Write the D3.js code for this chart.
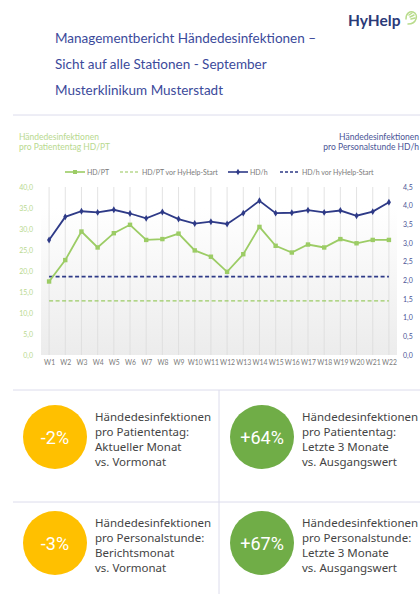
<!DOCTYPE html>
<html>
<head>
<meta charset="utf-8">
<script src="https://cdn.jsdelivr.net/npm/d3@7"></script>
<style>
  body { margin: 0; background: #fff; }
  svg { display: block; }
</style>
</head>
<body>
<div id="chart"></div>
<script>
// weekly values
const weeks = ["W1","W2","W3","W4","W5","W6","W7","W8","W9","W10","W11","W12","W13","W14","W15","W16","W17","W18","W19","W20","W21","W22"];
const hdPT = [17.5,22.6,29.4,25.6,29.0,31.0,27.4,27.6,28.9,24.9,23.4,19.8,24.0,30.5,26.0,24.4,26.3,25.6,27.6,26.6,27.4,27.4];
const hdH = [3.08,3.70,3.85,3.82,3.89,3.79,3.66,3.83,3.64,3.52,3.57,3.51,3.80,4.13,3.80,3.81,3.88,3.82,3.87,3.73,3.84,4.09];
const hdPTBefore = 12.9;
const hdHBefore = 2.1;
const leftTicks = [0,5,10,15,20,25,30,35,40];
const rightTicks = [0,0.5,1,1.5,2,2.5,3,3.5,4,4.5];
const titleLines = ["Managementbericht Händedesinfektionen –", "Sicht auf alle Stationen - September", "Musterklinikum Musterstadt"];
const kpis = [
    { value: "-2%", color: "#ffc000", lines: ["Händedesinfektionen","pro Patiententag:","Aktueller Monat","vs. Vormonat"] },
    { value: "+64%", color: "#70ad47", lines: ["Händedesinfektionen","pro Patiententag:","Letzte 3 Monate","vs. Ausgangswert"] },
    { value: "-3%", color: "#ffc000", lines: ["Händedesinfektionen","pro Personalstunde:","Berichtsmonat","vs. Vormonat"] },
    { value: "+67%", color: "#70ad47", lines: ["Händedesinfektionen","pro Personalstunde:","Letzte 3 Monate","vs. Ausgangswert"] }
];

const width = 420, height = 594;
const green = "#9ccc65", greenText = "#b8d98f", navy = "#2e3a87", navyText = "#4a5496";
const plot = { top: 187, bottom: 355, left: 41, right: 397 };

let svg = d3.select("#chart")
    .append("svg")
    .attr("width", width)
    .attr("height", height)
    .attr("viewBox", [0, 0, width, height]);

// header
svg.append("text")
    .attr("x", 348).attr("y", 26)
    .attr("font-family", "Lato, sans-serif")
    .attr("font-weight", "bold")
    .attr("font-size", 15.5)
    .attr("fill", "#2b3a78")
    .text("HyHelp");

// little hand icon next to the logo
let hand = svg.append("g")
    .attr("transform", "translate(404,10)")
    .attr("fill", "none")
    .attr("stroke", "#b9dc8c")
    .attr("stroke-width", 1.5)
    .attr("stroke-linecap", "round");
hand.append("path").attr("d", "M2,9 C2,3 6,1 9,2 C12,3 13,6 12,9 C11,12 8,14 4,14");
hand.append("path").attr("d", "M5,5 L8,3 M6,7 L10,5 M7,9 L11,8");

svg.selectAll(".title")
    .data(titleLines)
    .join("text")
    .attr("class", "title")
    .attr("x", 55)
    .attr("y", (d, i) => 43 + i * 26)
    .attr("font-family", "Lato, sans-serif")
    .attr("font-size", 13.5)
    .attr("fill", "#3b4a9b")
    .text(d => d);

svg.append("line")
    .attr("x1", 13).attr("x2", width)
    .attr("y1", 115).attr("y2", 115)
    .attr("stroke", "#dcdcec").attr("stroke-width", 1);

// scales
let x = d3.scalePoint()
    .domain(weeks)
    .range([plot.left, plot.right])
    .padding(0.5);

let yL = d3.scaleLinear().domain([0, 40]).range([plot.bottom, plot.top]);
let yR = d3.scaleLinear().domain([0, 4.5]).range([plot.bottom, plot.top]);

// plot background gradient
let grad = svg.append("defs").append("linearGradient")
    .attr("id", "bg").attr("x1", 0).attr("x2", 0).attr("y1", 0).attr("y2", 1);
grad.append("stop").attr("offset", "0%").attr("stop-color", "#ffffff");
grad.append("stop").attr("offset", "100%").attr("stop-color", "#ececec");

svg.append("rect")
    .attr("x", plot.left).attr("y", yL(35))
    .attr("width", plot.right - plot.left)
    .attr("height", plot.bottom - yL(35))
    .attr("fill", "url(#bg)");

svg.append("g")
    .selectAll("line")
    .data(weeks)
    .join("line")
    .attr("x1", d => x(d)).attr("x2", d => x(d))
    .attr("y1", plot.top).attr("y2", plot.bottom)
    .attr("stroke", "#dcdcdc").attr("stroke-width", 0.8);

const comma = f => v => d3.format(f)(v).replace(".", ",");

// left axis
let axL = svg.append("g")
    .attr("transform", `translate(${plot.left - 5},0)`)
    .call(d3.axisLeft(yL).tickValues(leftTicks).tickFormat(comma(".1f")).tickSize(0));
axL.select(".domain").remove();
axL.selectAll("text")
    .attr("font-family", "Lato, sans-serif")
    .attr("font-size", 7)
    .attr("fill", greenText);

// right axis
let axR = svg.append("g")
    .attr("transform", `translate(${plot.right + 3},0)`)
    .call(d3.axisRight(yR).tickValues(rightTicks).tickFormat(comma(".1f")).tickSize(0));
axR.select(".domain").remove();
axR.selectAll("text")
    .attr("font-family", "Lato, sans-serif")
    .attr("font-size", 7)
    .attr("fill", navyText);

// x axis
let axX = svg.append("g")
    .attr("transform", `translate(0,${plot.bottom + 2})`)
    .call(d3.axisBottom(x).tickSize(0));
axX.select(".domain").remove();
axX.selectAll("text")
    .attr("font-family", "Lato, sans-serif")
    .attr("font-size", 6.8)
    .attr("fill", "#7a7a7a");

// baselines before HyHelp
svg.append("line")
    .attr("x1", x(weeks[0])).attr("x2", x(weeks[weeks.length - 1]))
    .attr("y1", yL(hdPTBefore)).attr("y2", yL(hdPTBefore))
    .attr("stroke", green).attr("stroke-width", 1.2)
    .attr("stroke-dasharray", "4,2.5");

svg.append("line")
    .attr("x1", x(weeks[0])).attr("x2", x(weeks[weeks.length - 1]))
    .attr("y1", yR(hdHBefore)).attr("y2", yR(hdHBefore))
    .attr("stroke", navy).attr("stroke-width", 1.8)
    .attr("stroke-dasharray", "4,2.5");

// HD/h series
svg.append("path")
    .datum(hdH)
    .attr("fill", "none")
    .attr("stroke", navy)
    .attr("stroke-width", 1.8)
    .attr("d", d3.line().x((d, i) => x(weeks[i])).y(d => yR(d)));

svg.append("g")
    .selectAll("path")
    .data(hdH)
    .join("path")
    .attr("transform", (d, i) => `translate(${x(weeks[i])},${yR(d)})`)
    .attr("d", d3.symbol(d3.symbolDiamond, 14))
    .attr("fill", navy);

// HD/PT series
svg.append("path")
    .datum(hdPT)
    .attr("fill", "none")
    .attr("stroke", green)
    .attr("stroke-width", 1.8)
    .attr("d", d3.line().x((d, i) => x(weeks[i])).y(d => yL(d)));

svg.append("g")
    .selectAll("rect")
    .data(hdPT)
    .join("rect")
    .attr("x", (d, i) => x(weeks[i]) - 2.2)
    .attr("y", d => yL(d) - 2.2)
    .attr("width", 4.4).attr("height", 4.4)
    .attr("fill", green);

// axis titles
svg.append("text")
    .attr("font-family", "Lato, sans-serif")
    .attr("font-size", 8.5)
    .attr("fill", greenText)
    .selectAll("tspan")
    .data(["Händedesinfektionen", "pro Patiententag HD/PT"])
    .join("tspan")
    .attr("x", 19)
    .attr("y", (d, i) => 140 + i * 10)
    .text(d => d);

svg.append("text")
    .attr("font-family", "Lato, sans-serif")
    .attr("font-size", 8.5)
    .attr("fill", navyText)
    .attr("text-anchor", "end")
    .selectAll("tspan")
    .data(["Händedesinfektionen", "pro Personalstunde HD/h"])
    .join("tspan")
    .attr("x", 419)
    .attr("y", (d, i) => 139.5 + i * 10)
    .text(d => d);

// legend
const legend = [
    { label: "HD/PT", color: green, dash: null, mark: "square", x: 65 },
    { label: "HD/PT vor HyHelp-Start", color: greenText, dash: "3,2", mark: null, x: 120 },
    { label: "HD/h", color: navy, dash: null, mark: "diamond", x: 228 },
    { label: "HD/h vor HyHelp-Start", color: navy, dash: "3,2", mark: null, x: 280 }
];
let lg = svg.append("g").selectAll("g")
    .data(legend)
    .join("g")
    .attr("transform", d => `translate(${d.x},172)`);
lg.append("line")
    .attr("x1", 0).attr("x2", 20)
    .attr("stroke", d => d.color)
    .attr("stroke-width", 1.6)
    .attr("stroke-dasharray", d => d.dash);
lg.filter(d => d.mark === "square").append("rect")
    .attr("x", 8).attr("y", -2).attr("width", 4).attr("height", 4)
    .attr("fill", d => d.color);
lg.filter(d => d.mark === "diamond").append("path")
    .attr("transform", "translate(10,0)")
    .attr("d", d3.symbol(d3.symbolDiamond, 12))
    .attr("fill", d => d.color);
lg.append("text")
    .attr("x", 22).attr("y", 2.5)
    .attr("font-family", "Lato, sans-serif")
    .attr("font-size", 7)
    .attr("fill", "#7a7a7a")
    .text(d => d.label);

// KPI panels
svg.append("line").attr("x1", 13).attr("x2", width).attr("y1", 390).attr("y2", 390)
    .attr("stroke", "#dcdcec");
svg.append("line").attr("x1", 13).attr("x2", width).attr("y1", 502).attr("y2", 502)
    .attr("stroke", "#dcdcec");
svg.append("line").attr("x1", 219).attr("x2", 219).attr("y1", 390).attr("y2", height)
    .attr("stroke", "#dcdcec");

let kpi = svg.append("g").selectAll("g")
    .data(kpis)
    .join("g")
    .attr("transform", (d, i) => `translate(${i % 2 ? 262 : 55},${i < 2 ? 437 : 543})`);

kpi.append("circle")
    .attr("r", 32)
    .attr("fill", d => d.color);

kpi.append("text")
    .attr("y", 6.5)
    .attr("text-anchor", "middle")
    .attr("font-family", "Roboto, sans-serif")
    .attr("font-size", 18)
    .attr("fill", "#fff")
    .text(d => d.value);

kpi.append("text")
    .attr("font-family", "'Noto Sans', sans-serif")
    .attr("font-size", 11.5)
    .attr("fill", "#444")
    .selectAll("tspan")
    .data(d => d.lines)
    .join("tspan")
    .attr("x", 40)
    .attr("y", (d, i) => -16 + i * 15)
    .text(d => d);
</script>
</body>
</html>
